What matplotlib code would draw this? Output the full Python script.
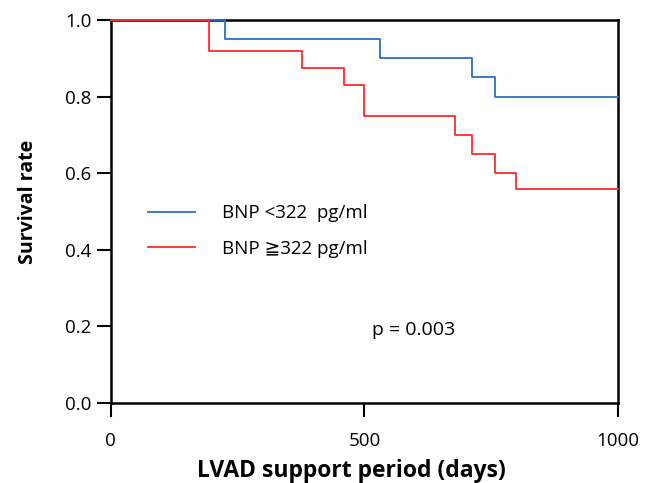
import matplotlib
matplotlib.use("Agg")
import matplotlib.pyplot as plt

plt.rcParams['font.family'] = ['Open Sans', 'DejaVu Sans']

# Kaplan-Meier step data (days, survival)
tLow = [0, 225, 530, 712, 757, 1000]
sLow = [1.0, 0.95, 0.90, 0.85, 0.80, 0.80]
tHigh = [0, 193, 376, 459, 500, 679, 712, 757, 799, 1000]
sHigh = [1.0, 0.92, 0.875, 0.83, 0.75, 0.70, 0.65, 0.60, 0.56, 0.56]

labels = ['BNP <322  pg/ml', 'BNP \u2267322 pg/ml']
xTicks = [0, 500, 1000]
yTicks = [0.0, 0.2, 0.4, 0.6, 0.8, 1.0]

fig = plt.figure(figsize=(6.56, 4.83), dpi=100)
ax = fig.add_axes([0.169, 0.1656, 0.773, 0.793])

ax.step(tLow, sLow, where='post', color='#2a6fc4', lw=1.3, label=labels[0],
        clip_on=False, zorder=3)
ax.step(tHigh, sHigh, where='post', color='#ff2a2a', lw=1.3, label=labels[1],
        clip_on=False, zorder=3)

ax.set_xlim(0, 1000)
ax.set_ylim(0, 1.0)
ax.set_xticks(xTicks)
ax.set_yticks(yTicks)
ax.set_yticklabels([f'{v:.1f}' for v in yTicks])
ax.tick_params(direction='out', length=10, width=1.5, labelsize=13.5, pad=4)
ax.tick_params(axis='x', pad=11)
for s in ax.spines.values():
    s.set_linewidth(1.8)

ax.set_xlabel('LVAD support period (days)', fontsize=16.5, fontweight='bold', va='top')
ax.xaxis.set_label_coords(0.475, -0.146)
ax.set_ylabel('Survival rate', fontsize=14, fontweight='bold')
ax.yaxis.set_label_coords(-0.144, 0.525)

ax.legend(loc='center left', bbox_to_anchor=(0.073, 0.449), frameon=False,
          fontsize=13.5, handlelength=2.5, handletextpad=1.45, labelspacing=0.95,
          borderpad=0, borderaxespad=0)

ax.text(515, 0.19, 'p = 0.003', fontsize=14, ha='left', va='center')

fig.savefig('out.png', dpi=100)
